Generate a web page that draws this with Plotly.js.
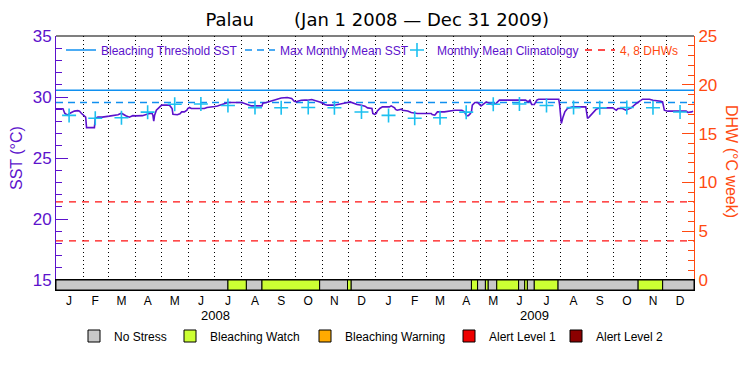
<!DOCTYPE html>
<html><head><meta charset="utf-8">
<script src="https://cdn.plot.ly/plotly-3.0.1.min.js"></script>
<style>html,body{margin:0;padding:0;background:#fff}</style>
</head><body><div id="chart" style="width:750px;height:375px"></div>
<script>
// ---- data ----
const sstDates = ['2008-01-01','2008-01-09','2008-01-11','2008-01-14','2008-01-17','2008-01-19','2008-01-22','2008-01-26','2008-01-28','2008-01-30',
'2008-02-02','2008-02-04','2008-02-05','2008-02-14','2008-02-15','2008-02-18','2008-02-23','2008-02-28','2008-03-02','2008-03-12',
'2008-03-16','2008-03-21','2008-03-25','2008-03-29','2008-04-01','2008-04-09','2008-04-12','2008-04-16','2008-04-20','2008-04-21',
'2008-04-22','2008-04-23','2008-04-25','2008-04-28','2008-05-01','2008-05-10','2008-05-13','2008-05-14','2008-05-19','2008-05-22',
'2008-05-24','2008-05-27','2008-05-30','2008-05-31','2008-06-02','2008-06-04','2008-06-07','2008-06-11','2008-06-15','2008-06-19',
'2008-06-22','2008-06-27','2008-07-01','2008-07-04','2008-07-09','2008-07-12','2008-07-16','2008-08-01','2008-08-04','2008-08-07',
'2008-08-12','2008-08-24','2008-08-25','2008-08-29','2008-09-04','2008-09-07','2008-09-11','2008-09-15','2008-09-22','2008-09-27',
'2008-09-30','2008-10-03','2008-10-04','2008-10-08','2008-10-12','2008-10-15','2008-10-20','2008-10-23','2008-10-27','2008-10-31',
'2008-11-04','2008-11-07','2008-11-15','2008-11-19','2008-11-23','2008-11-27','2008-11-30','2008-12-03','2008-12-06','2008-12-08',
'2008-12-11','2008-12-16','2008-12-20','2008-12-23','2008-12-28','2008-12-29','2008-12-31','2009-01-02','2009-01-03','2009-01-06',
'2009-01-09','2009-01-17','2009-01-19','2009-01-23','2009-01-24','2009-01-26','2009-01-31','2009-02-01','2009-02-07','2009-02-11',
'2009-02-18','2009-03-06','2009-03-07','2009-03-10','2009-03-12','2009-03-13','2009-03-21','2009-03-27','2009-04-02','2009-04-10',
'2009-04-13','2009-04-15','2009-04-17','2009-04-19','2009-04-21','2009-04-22','2009-04-25','2009-04-28','2009-05-02','2009-05-04',
'2009-05-08','2009-05-12','2009-05-15','2009-05-19','2009-05-23','2009-06-22','2009-06-25','2009-06-27','2009-06-29','2009-07-02',
'2009-07-05','2009-07-07','2009-07-30','2009-07-31','2009-08-01','2009-08-02','2009-08-04','2009-08-06','2009-08-09','2009-08-15',
'2009-08-30','2009-08-31','2009-09-01','2009-09-03','2009-09-07','2009-09-11','2009-09-15','2009-09-30','2009-10-02','2009-10-04',
'2009-10-06','2009-10-11','2009-10-15','2009-10-21','2009-10-27','2009-11-01','2009-11-03','2009-11-11','2009-11-15','2009-11-24',
'2009-11-26','2009-11-28','2009-12-02','2009-12-23','2009-12-25','2009-12-29','2009-12-31'];
const sstValues = [29.04,29.04,28.67,28.51,28.67,28.75,28.84,28.88,28.84,28.67,
28.51,28.35,27.49,27.49,28.26,28.35,28.35,28.43,28.43,28.55,
28.67,28.47,28.35,28.47,28.45,28.47,28.55,28.63,28.67,28.51,
28.02,28.51,28.92,29.16,29.33,29.33,29.06,28.59,28.55,28.63,
28.78,28.78,28.92,29.06,29.14,29.06,29.06,29.11,29.11,29.06,
29.14,29.16,29.22,29.27,29.38,29.47,29.55,29.55,29.47,29.38,
29.27,29.27,29.49,29.55,29.68,29.74,29.79,29.92,29.96,29.88,
29.65,29.60,29.65,29.74,29.76,29.74,29.79,29.74,29.65,29.55,
29.38,29.33,29.33,29.38,29.41,29.47,29.55,29.60,29.52,29.41,
29.38,29.33,29.25,29.11,29.06,28.65,28.57,28.65,28.84,29.06,
29.19,29.19,29.27,29.11,28.98,28.92,29.00,28.92,28.86,28.73,
28.65,28.65,28.57,28.51,28.65,28.78,28.78,28.84,28.92,28.92,
28.78,28.51,28.45,28.57,28.78,29.33,29.55,29.55,29.27,29.38,
29.60,29.47,29.38,29.47,29.74,29.74,29.60,29.74,29.38,29.38,
29.74,29.82,29.82,29.38,28.51,27.83,28.37,28.78,29.06,29.19,
29.19,28.78,28.24,28.37,28.65,29.00,29.11,29.11,29.00,28.92,
29.06,29.06,28.92,29.11,29.47,29.74,29.82,29.82,29.74,29.65,
29.60,28.92,28.84,28.84,28.73,28.78,28.84];

const climDates = ['2008-01-16','2008-02-15','2008-03-16','2008-04-15','2008-05-16','2008-06-15','2008-07-16','2008-08-16','2008-09-15','2008-10-16','2008-11-15','2008-12-16',
'2009-01-16','2009-02-15','2009-03-16','2009-04-15','2009-05-16','2009-06-15','2009-07-16','2009-08-16','2009-09-15','2009-10-16','2009-11-15','2009-12-16'];
const climValues = [28.49,28.26,28.30,28.76,29.41,29.43,29.30,29.13,29.12,29.14,29.12,28.77,
28.49,28.26,28.30,28.76,29.41,29.43,29.30,29.13,29.12,29.14,29.12,28.77];

const thresholdSST = 30.55;
const mmmSST = 29.55;
const dhwLevels = [4, 8];

const stressStart = ['2008-01-01','2008-07-16','2008-08-06','2008-08-24','2008-10-29','2008-11-30','2008-12-04','2009-04-21','2009-04-28','2009-05-07',
'2009-05-10','2009-05-20','2009-06-14','2009-06-21','2009-06-24','2009-07-02','2009-07-29','2009-10-29','2009-11-26'];
const stressEnd = ['2008-07-16','2008-08-06','2008-08-24','2008-10-29','2008-11-30','2008-12-04','2009-04-21','2009-04-28','2009-05-07','2009-05-10',
'2009-05-20','2009-06-14','2009-06-21','2009-06-24','2009-07-02','2009-07-29','2009-10-29','2009-11-26','2010-01-01'];
const stressLevel = [0,1,0,1,0,1,0,1,0,1,0,1,0,1,0,1,0,1,0];
const stressNames = ['No Stress','Bleaching Watch','Bleaching Warning','Alert Level 1','Alert Level 2'];

const monthTickDates = climDates;
const monthLetters = ['J','F','M','A','M','J','J','A','S','O','N','D','J','F','M','A','M','J','J','A','S','O','N','D'];
const yearLabels = ['2008','2009'];
const yearLabelDates = ['2008-07-02','2009-07-02'];
const xStart = '2008-01-01', xEnd = '2010-01-01';

// ---- styling ----
const FONT = 'Liberation Sans, Arial, sans-serif';
const TFONT = 'DejaVu Sans, Liberation Sans, sans-serif';
const PURPLE = '#5c12cc';
const ORANGE = '#ff4a10';
const BLUE = '#1090f0';
const CYAN = '#1cc0f0';
const RED = '#ff1010';
const stressColors = ['#c8c8c8','#ccff33','#ffaa00','#ee0000','#8b0000'];

const traces = [];
traces.push({x:[xStart,xEnd], y:[thresholdSST,thresholdSST], mode:'lines', name:'Bleaching Threshold SST',
  line:{color:BLUE,width:1.5}, legend:'legend', hoverinfo:'skip'});
traces.push({x:[xStart,xEnd], y:[mmmSST,mmmSST], mode:'lines', name:'Max Monthly Mean SST',
  line:{color:BLUE,width:1.5,dash:'7px,5px'}, legend:'legend2', hoverinfo:'skip'});
traces.push({x:sstDates, y:sstValues, mode:'lines', name:'SST', showlegend:false,
  line:{color:PURPLE,width:1.6}, hoverinfo:'skip'});
traces.push({x:climDates, y:climValues, mode:'markers', name:'Monthly Mean Climatology',
  marker:{symbol:'cross-thin-open', size:10, line:{color:CYAN,width:1.6}, color:CYAN}, legend:'legend3', hoverinfo:'skip'});
const dx = [], dy = [];
dhwLevels.forEach((v,i)=>{ if(i) {dx.push(null); dy.push(null);} dx.push(xStart, xEnd); dy.push(v, v); });
traces.push({x:dx, y:dy, yaxis:'y2', mode:'lines', name:'4, 8 DHWs', connectgaps:false,
  line:{color:RED,width:1.3,dash:'7px,6px'}, legend:'legend4', hoverinfo:'skip'});

stressNames.forEach((nm, lv) => {
  const base = [], len = [], yy = [];
  stressLevel.forEach((l,i)=>{ if(l===lv){ base.push(stressStart[i]); len.push(Date.parse(stressEnd[i])-Date.parse(stressStart[i])); yy.push(0.5);} });
  if (!yy.length) { base.push(null); len.push(null); yy.push(null); } // level never reached: legend entry only
  traces.push({type:'bar', orientation:'h', y:yy, x:len, base:base, width:1, yaxis:'y3', name:nm,
    marker:{color:stressColors[lv], line:{color:'black', width:1}}, legend:'legend'+(5+lv), hoverinfo:'skip'});
});

const W = 638, L = 56, PT = 36, PB = 290, PH = PB-PT;
const px2x = p => (p-L)/W;
const py2y = p => (PB-p)/PH;

const layout = {
  width:750, height:375, margin:{l:L, r:750-L-W, t:PT, b:375-PB},
  paper_bgcolor:'white', plot_bgcolor:'white', barmode:'overlay', showlegend:true,
  font:{family:FONT, color:'black'},
  title:{text:'Palau' + '\u00a0'.repeat(7) + '(Jan 1 2008 \u2014 Dec 31 2009)', x:0.503, xanchor:'center', y:1-20/375, yanchor:'middle',
    font:{family:TFONT, size:18, color:'black'}},
  xaxis:{type:'date', range:[xStart,xEnd], anchor:'y3', tickmode:'array', tickvals:monthTickDates, ticktext:monthLetters,
    ticks:'', showgrid:false, zeroline:false, showline:true, linecolor:'black', linewidth:1, mirror:true,
    tickfont:{size:12, color:'black'}, fixedrange:true,
    minor:{tick0:'2008-01-01', dtick:'M1', showgrid:true, gridcolor:'black', griddash:'1px,3px', gridwidth:1, ticks:''}},
  yaxis:{domain:[10/PH,1], range:[15,35], tick0:15, dtick:5, ticks:'inside', ticklen:12, tickwidth:1, tickcolor:PURPLE,
    showline:true, linecolor:PURPLE, linewidth:1, showgrid:false, zeroline:false, tickfont:{size:17, color:PURPLE},
    minor:{dtick:1, ticks:'inside', ticklen:6, tickcolor:PURPLE, showgrid:false}, fixedrange:true},
  yaxis2:{overlaying:'y', side:'right', anchor:'x', range:[0,25], tick0:0, dtick:5, ticks:'inside', ticklen:12, tickwidth:1, tickcolor:ORANGE,
    showline:true, linecolor:ORANGE, linewidth:1, showgrid:false, zeroline:false, tickfont:{size:17, color:ORANGE},
    minor:{dtick:1, ticks:'inside', ticklen:6, tickcolor:ORANGE, showgrid:false}, fixedrange:true},
  yaxis3:{domain:[0,10/PH], range:[0,1], showticklabels:false, ticks:'', showgrid:false, zeroline:false,
    showline:true, linecolor:'black', linewidth:1, mirror:true, fixedrange:true},
  shapes:[{type:'line', xref:'paper', yref:'paper', x0:0, x1:1, y0:1, y1:1, line:{color:'black', width:1.2}}],
  annotations:[
    {text:'SST (\u00b0C)', xref:'paper', yref:'paper', x:px2x(16), y:py2y(158), textangle:-90, showarrow:false,
      xanchor:'center', yanchor:'middle', font:{size:16, color:PURPLE}},
    {text:'DHW (\u00b0C week)', xref:'paper', yref:'paper', x:px2x(732), y:py2y(161), textangle:90, showarrow:false,
      xanchor:'center', yanchor:'middle', font:{size:16, color:ORANGE}}
  ]
};
yearLabels.forEach((t,i)=>layout.annotations.push({text:t, xref:'x', yref:'paper', x:yearLabelDates[i], y:py2y(315),
  showarrow:false, xanchor:'center', yanchor:'middle', font:{size:13, color:'black'}}));

const legPos = [
  {x:61, y:50, c:PURPLE},{x:240, y:50, c:PURPLE},{x:397, y:50, c:PURPLE},{x:580, y:50, c:ORANGE},
  {x:74, y:336, c:'black'},{x:170, y:336, c:'black'},{x:305, y:336, c:'black'},{x:449, y:336, c:'black'},{x:556, y:336, c:'black'}
];
legPos.forEach((p,i)=>{
  layout[i===0?'legend':'legend'+(i+1)] = {x:px2x(p.x), y:py2y(p.y), xanchor:'left', yanchor:'middle', orientation:'h',
    bgcolor:'rgba(0,0,0,0)', borderwidth:0, itemwidth:30, font:{size:12, color:p.c, family:FONT}, itemclick:false, itemdoubleclick:false};
});

Plotly.newPlot('chart', traces, layout, {displayModeBar:false, staticPlot:true});
</script>
</body></html>
